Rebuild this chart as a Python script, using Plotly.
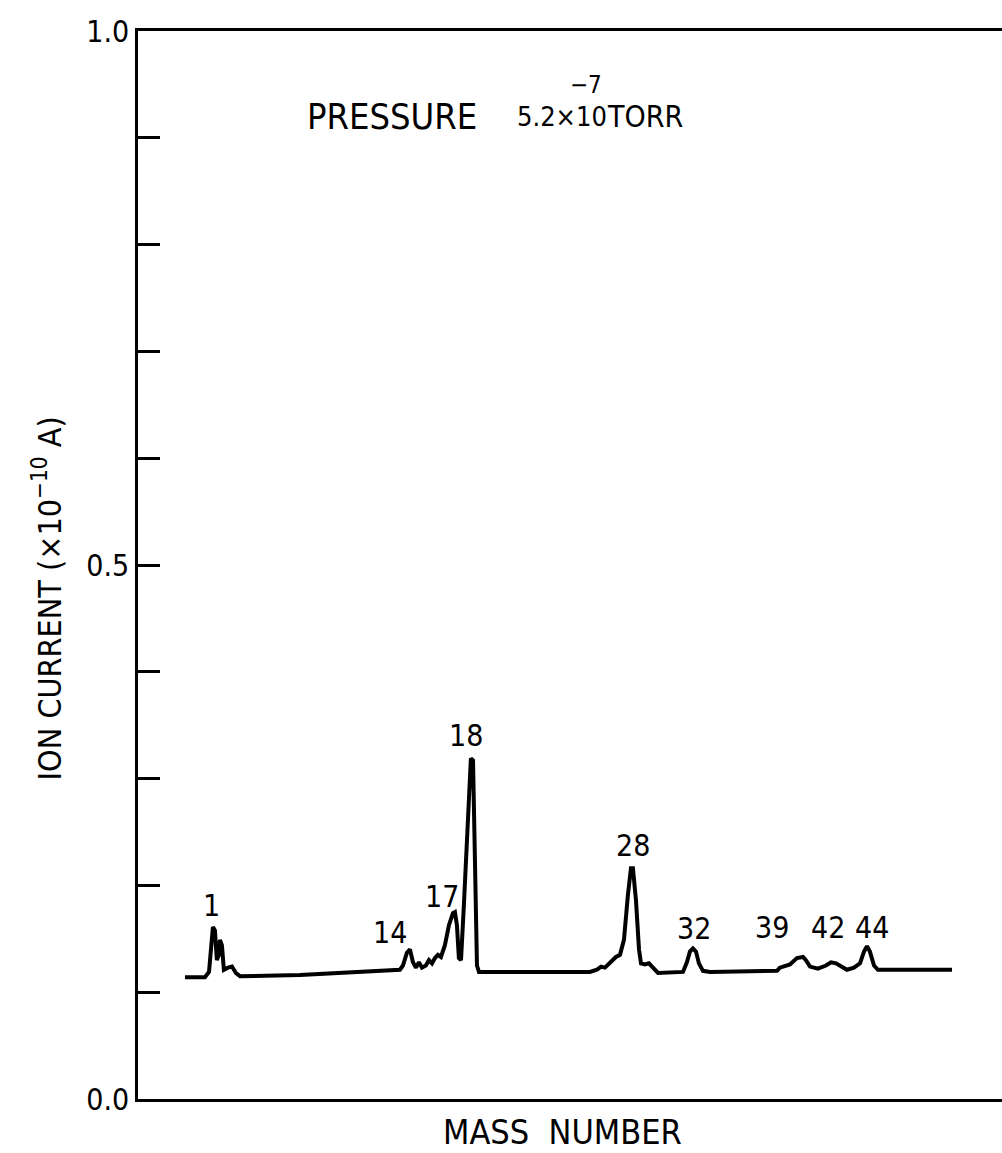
import plotly.graph_objects as go

# Scan trace: x in mass-number scale units, y = ion current (x1e-10 A)
scan_mass = [-0.84, 0.47, 0.74, 0.87, 1.00, 1.13, 1.26, 1.39, 1.46, 1.59, 1.72, 1.99, 2.25, 2.51, 2.78,
             6.72, 13.30, 13.50, 13.76, 13.96, 14.16, 14.36, 14.55, 14.75, 15.01, 15.21, 15.41, 15.61,
             15.80, 16.00, 16.26, 16.53, 16.79, 16.92, 17.05, 17.18, 17.32, 17.51, 17.78, 17.97, 18.11,
             18.24, 18.37, 18.50, 25.80, 26.26, 26.53, 26.79, 27.12, 27.51, 27.78, 28.04, 28.30, 28.50,
             28.63, 28.83, 29.03, 29.16, 29.42, 29.68, 29.95, 30.28, 31.92, 32.18, 32.38, 32.58, 32.78,
             32.97, 33.24, 33.70, 38.11, 38.30, 38.96, 39.42, 39.82, 40.01, 40.28, 40.80, 41.33, 41.66,
             41.99, 42.32, 42.71, 43.17, 43.57, 43.83, 44.03, 44.22, 44.49, 44.75, 49.62]
ion_current = [0.114, 0.114, 0.119, 0.140, 0.161, 0.158, 0.130, 0.135, 0.149, 0.144, 0.121, 0.123, 0.124, 0.118, 0.115,
               0.116, 0.121, 0.125, 0.137, 0.140, 0.128, 0.123, 0.128, 0.123, 0.125, 0.130, 0.127, 0.132,
               0.135, 0.133, 0.144, 0.163, 0.174, 0.175, 0.163, 0.132, 0.130, 0.182, 0.261, 0.319, 0.317,
               0.224, 0.125, 0.119, 0.119, 0.121, 0.124, 0.123, 0.128, 0.133, 0.135, 0.149, 0.191, 0.216,
               0.216, 0.186, 0.140, 0.127, 0.126, 0.127, 0.123, 0.118, 0.119, 0.128, 0.138, 0.141, 0.138,
               0.127, 0.120, 0.119, 0.120, 0.123, 0.126, 0.132, 0.133, 0.130, 0.124, 0.122, 0.125, 0.128,
               0.127, 0.124, 0.121, 0.123, 0.127, 0.138, 0.143, 0.138, 0.125, 0.121, 0.121]

# Peak labels
peak_labels = ["1", "14", "17", "18", "28", "32", "39", "42", "44"]
peak_label_x = [0.93, 12.64, 16.07, 17.64, 28.63, 32.64, 37.78, 41.46, 44.36]
peak_label_y = [0.181, 0.156, 0.190, 0.340, 0.237, 0.160, 0.161, 0.161, 0.161]

y_tick_vals = [0.0, 0.1, 0.2, 0.3, 0.4, 0.5, 0.6, 0.7, 0.8, 0.9, 1.0]
y_tick_text = ["0.0", "", "", "", "", "0.5", "", "", "", "", "1.0"]

FONT = "DejaVu Sans Condensed, DejaVu Sans, sans-serif"
BLACK = "black"

fig = go.Figure()
fig.add_trace(go.Scatter(x=scan_mass, y=ion_current, mode="lines",
                         line=dict(color=BLACK, width=4), hoverinfo="skip"))

for t, x, y in zip(peak_labels, peak_label_x, peak_label_y):
    fig.add_annotation(x=x, y=y, text=t, showarrow=False, xref="x", yref="y",
                       font=dict(family=FONT, size=30, color=BLACK))

# Title pieces (paper coords: x = (px-138)/864, y = (1099-px)/1068)
fig.add_annotation(xref="paper", yref="paper", x=0.193, y=0.920, xanchor="left", yanchor="middle",
                   text="PRESSURE", showarrow=False, font=dict(family=FONT, size=36, color=BLACK))
fig.add_annotation(xref="paper", yref="paper", x=0.436, y=0.920, xanchor="left", yanchor="middle",
                   text="5.2×10", showarrow=False, font=dict(family=FONT, size=27, color=BLACK))
fig.add_annotation(xref="paper", yref="paper", x=0.541, y=0.920, xanchor="left", yanchor="middle",
                   text="TORR", showarrow=False, font=dict(family=FONT, size=30, color=BLACK))
fig.add_annotation(xref="paper", yref="paper", x=0.518, y=0.949, xanchor="center", yanchor="middle",
                   text="−7", showarrow=False, font=dict(family=FONT, size=24, color=BLACK))

fig.add_annotation(xref="paper", yref="paper", x=-0.105, y=0.469, xanchor="center", yanchor="middle",
                   textangle=-90,
                   text="ION CURRENT (×10<sup>−10</sup> A)", showarrow=False,
                   font=dict(family=FONT, size=32, color=BLACK))
fig.add_annotation(xref="paper", yref="paper", x=0.491, y=-0.031, xanchor="center", yanchor="middle",
                   text="MASS  NUMBER", showarrow=False,
                   font=dict(family=FONT, size=34, color=BLACK))

fig.update_layout(
    width=1002, height=1153,
    margin=dict(l=138, r=0, t=31, b=54),
    paper_bgcolor="white", plot_bgcolor="white",
    showlegend=False,
    xaxis=dict(range=[-3.93, 52.91], showgrid=False, zeroline=False, showticklabels=False,
               ticks="", showline=True, linecolor=BLACK, linewidth=2.5, mirror=True),
    yaxis=dict(range=[0, 1], showgrid=False, zeroline=False, showline=True, linecolor=BLACK,
               linewidth=2.5, ticks="inside", ticklen=22, tickwidth=3, tickcolor=BLACK,
               tickvals=y_tick_vals, ticktext=y_tick_text,
               tickfont=dict(family=FONT, size=30, color=BLACK)),
)

fig.write_html("out.html")
